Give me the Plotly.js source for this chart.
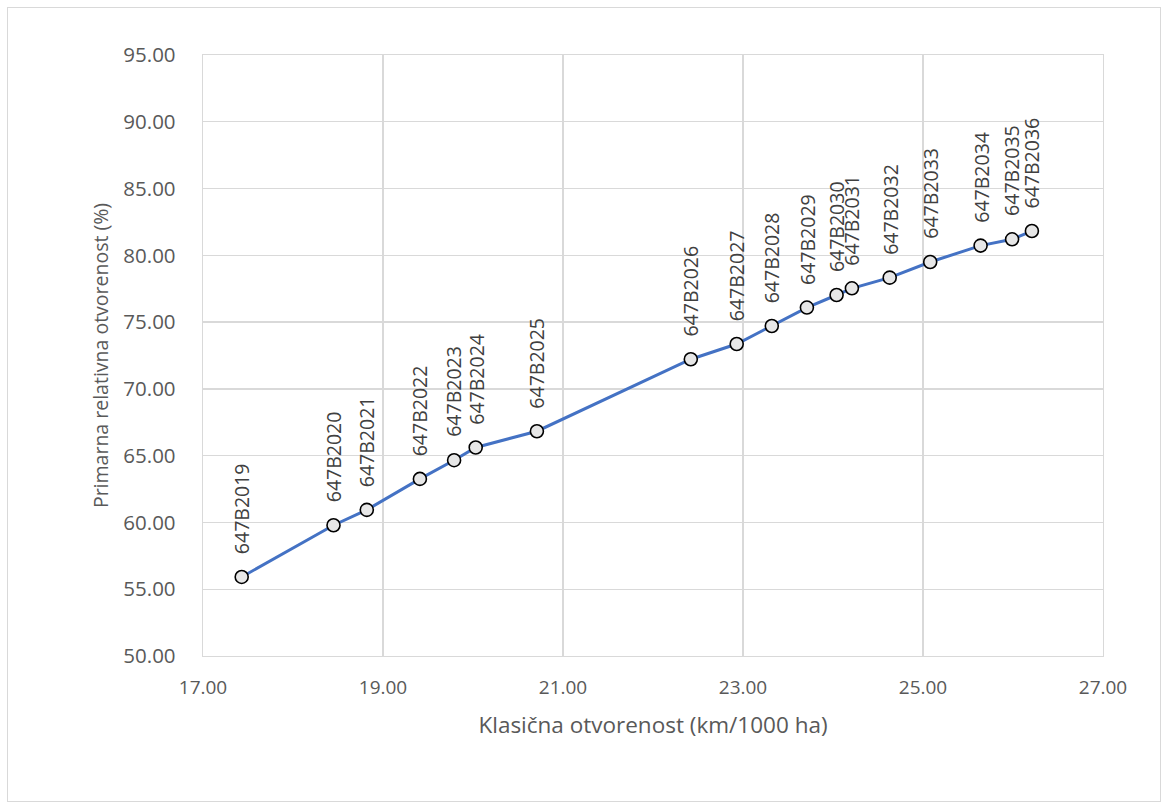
<!DOCTYPE html>
<html>
<head>
<meta charset="utf-8">
<script src="https://cdn.plot.ly/plotly-3.0.1.min.js"></script>
<style>
  body { margin: 0; padding: 0; background: #fff; }
  #wrap { position: relative; width: 1165px; height: 808px; }
  #chart { position: absolute; left: 0; top: 0; width: 1165px; height: 808px; }
  #frame { position: absolute; left: 7px; top: 7px; width: 1152px; height: 793px; border: 1px solid #d9d9d9; pointer-events: none; }
</style>
</head>
<body>
<div id="wrap">
  <div id="chart"></div>
  <div id="frame"></div>
</div>
<script>
const labels = ["647B2019","647B2020","647B2021","647B2022","647B2023","647B2024","647B2025","647B2026","647B2027","647B2028","647B2029","647B2030","647B2031","647B2032","647B2033","647B2034","647B2035","647B2036"];
const klasicna = [17.43, 18.45, 18.82, 19.41, 19.79, 20.03, 20.71, 22.42, 22.93, 23.32, 23.71, 24.04, 24.21, 24.63, 25.08, 25.64, 25.99, 26.21];
const primarna = [55.92, 59.79, 60.94, 63.26, 64.66, 65.61, 66.83, 72.22, 73.36, 74.71, 76.09, 77.03, 77.53, 78.33, 79.50, 80.73, 81.20, 81.82];
const xTickVals = [17, 19, 21, 23, 25, 27];
const yTickVals = [50, 55, 60, 65, 70, 75, 80, 85, 90, 95];

const trace = {
  x: klasicna,
  y: primarna,
  type: 'scatter',
  mode: 'lines+markers',
  line: { color: '#4472C4', width: 3 },
  marker: { symbol: 'circle', size: 13, color: '#e7e7e7', line: { color: '#000000', width: 1.6 } },
  hoverinfo: 'skip'
};

const annotations = labels.map((t, i) => ({
  x: klasicna[i], y: primarna[i], xref: 'x', yref: 'y',
  text: t, showarrow: false, textangle: -90,
  xanchor: 'center', yanchor: 'bottom', yshift: 21,
  font: { family: 'Open Sans, sans-serif', size: 19.5, color: '#404040' }
}));

const layout = {
  width: 1165, height: 808,
  margin: { l: 203, r: 62, t: 55, b: 152 },
  paper_bgcolor: '#ffffff', plot_bgcolor: '#ffffff',
  showlegend: false,
  xaxis: {
    range: [17, 27], tickvals: xTickVals, ticktext: xTickVals.map(v => v.toFixed(2)),
    showgrid: true, gridcolor: '#d9d9d9', gridwidth: 1.3,
    showline: true, linecolor: '#d9d9d9', linewidth: 1.3, mirror: true,
    zeroline: false, ticks: 'outside', ticklen: 14, tickcolor: 'rgba(0,0,0,0)',
    tickfont: { family: 'Open Sans, sans-serif', size: 19, color: '#595959' },
    title: { text: 'Klasična otvorenost (km/1000 ha)', font: { family: 'Open Sans, sans-serif', size: 22.5, color: '#595959' }, standoff: 18 }
  },
  yaxis: {
    range: [50, 95], tickvals: yTickVals, ticktext: yTickVals.map(v => v.toFixed(2)),
    showgrid: true, gridcolor: '#d9d9d9', gridwidth: 1.3,
    showline: true, linecolor: '#d9d9d9', linewidth: 1.3, mirror: true,
    zeroline: false, ticks: 'outside', ticklen: 22, tickcolor: 'rgba(0,0,0,0)',
    tickfont: { family: 'Open Sans, sans-serif', size: 20.5, color: '#595959' },
    title: { text: 'Primarna relativna otvorenost (%)', font: { family: 'Open Sans, sans-serif', size: 19.5, color: '#595959' }, standoff: 9 }
  },
  annotations: annotations
};

Plotly.newPlot('chart', [trace], layout, { staticPlot: true, displayModeBar: false });
</script>
</body>
</html>
